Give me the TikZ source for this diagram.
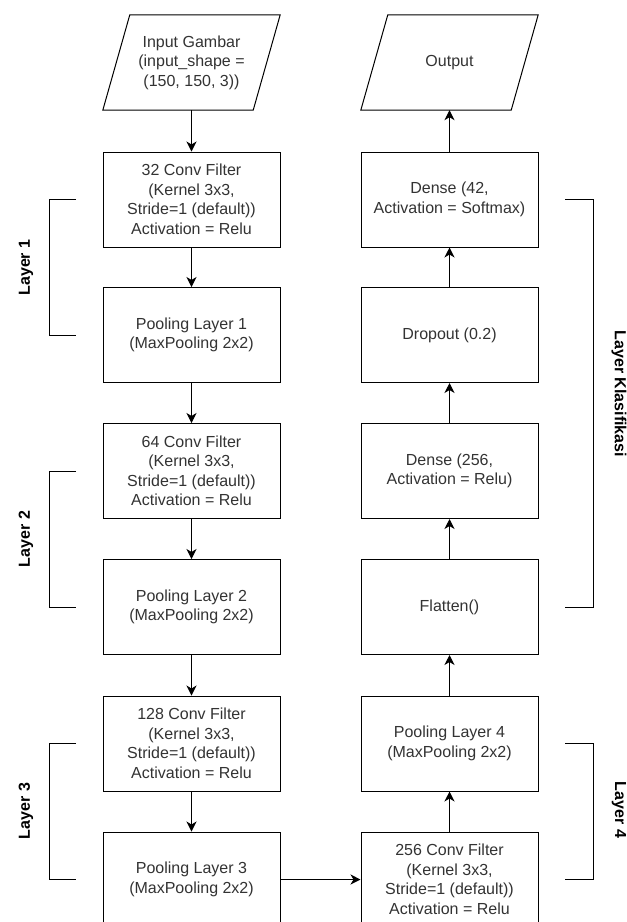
\documentclass[tikz,border=0pt]{standalone}
\usepackage{fontspec}
\setmainfont{Liberation Sans}
\usetikzlibrary{arrows.meta}
\begin{document}
\begin{tikzpicture}[x=1pt,y=-1pt,
  box/.style={draw=black, line width=1pt, minimum width=177pt, minimum height=95pt,
    align=center, text=black!80, font=\fontsize{16}{19.5}\selectfont, inner sep=0pt},
  para/.style={minimum width=150pt, minimum height=95pt,
    align=center, text=black!80, font=\fontsize{16}{19.5}\selectfont, inner sep=0pt},
  flow/.style={line width=1pt, -{Stealth[length=10pt,width=10pt,inset=3pt]}},
  brk/.style={line width=1pt},
  lbl/.style={font=\bfseries\fontsize{16}{19.5}\selectfont, text=black, inner sep=0pt}]
\useasboundingbox (0,0) rectangle (627,922);
\fill[white] (0,0) rectangle (627,922);
% left column
\node[para] (in) at (191.5,62.5) {Input Gambar\\(input\_shape =\\(150, 150, 3))};
\draw[line width=1pt] ([xshift=-13.5pt]in.south west) -- ([xshift=13.5pt]in.north west)
  -- ([xshift=13.5pt]in.north east) -- ([xshift=-13.5pt]in.south east) -- cycle;
\node[box] (c1) at (191.5,199.5) {32 Conv Filter\\(Kernel 3x3,\\Stride=1 (default))\\Activation = Relu};
\node[box] (p1) at (191.5,335) {Pooling Layer 1\\(MaxPooling 2x2)};
\node[box] (c2) at (191.5,471) {64 Conv Filter\\(Kernel 3x3,\\Stride=1 (default))\\Activation = Relu};
\node[box] (p2) at (191.5,607) {Pooling Layer 2\\(MaxPooling 2x2)};
\node[box] (c3) at (191.5,743.5) {128 Conv Filter\\(Kernel 3x3,\\Stride=1 (default))\\Activation = Relu};
\node[box] (p3) at (191.5,879.5) {Pooling Layer 3\\(MaxPooling 2x2)};
% right column
\node[para] (out) at (449.5,62.5) {Output};
\draw[line width=1pt] ([xshift=-13.5pt]out.south west) -- ([xshift=13.5pt]out.north west)
  -- ([xshift=13.5pt]out.north east) -- ([xshift=-13.5pt]out.south east) -- cycle;
\node[box] (d42) at (449.5,199.5) {Dense (42,\\Activation = Softmax)};
\node[box] (drop) at (449.5,335) {Dropout (0.2)};
\node[box] (d256) at (449.5,471) {Dense (256,\\Activation = Relu)};
\node[box] (flat) at (449.5,607) {Flatten()};
\node[box] (p4) at (449.5,743.5) {Pooling Layer 4\\(MaxPooling 2x2)};
\node[box] (c4) at (449.5,879.5) {256 Conv Filter\\(Kernel 3x3,\\Stride=1 (default))\\Activation = Relu};
% connectors
\draw[flow] (in.south) -- (c1.north);
\draw[flow] (c1) -- (p1);
\draw[flow] (p1) -- (c2);
\draw[flow] (c2) -- (p2);
\draw[flow] (p2) -- (c3);
\draw[flow] (c3) -- (p3);
\draw[flow] (p3.east) -- (c4.west);
\draw[flow] (c4) -- (p4);
\draw[flow] (p4) -- (flat);
\draw[flow] (flat) -- (d256);
\draw[flow] (d256) -- (drop);
\draw[flow] (drop) -- (d42);
\draw[flow] (d42.north) -- (out.south);
% brackets
\coordinate (a1) at (76,199.5); \coordinate (a2) at (76,335);
\draw[brk] (a1) -- ++(-27,0) |- (a2);
\coordinate (b1) at (76,471); \coordinate (b2) at (76,607);
\draw[brk] (b1) -- ++(-27,0) |- (b2);
\coordinate (e1) at (76,743.5); \coordinate (e2) at (76,879.5);
\draw[brk] (e1) -- ++(-27,0) |- (e2);
\coordinate (k1) at (565,199.5); \coordinate (k2) at (565,607);
\draw[brk] (k1) -- ++(28,0) |- (k2);
\coordinate (f1) at (565,743.5); \coordinate (f2) at (565,879.5);
\draw[brk] (f1) -- ++(28,0) |- (f2);
% labels
\node[lbl, rotate=90] (L1) at (26,267.5) {Layer 1};
\node[lbl, rotate=90] (L2) at (26,539) {Layer 2};
\node[lbl, rotate=90] (L3) at (26,811) {Layer 3};
\node[lbl, rotate=-90] (LK) at (619,394) {Layer Klasifikasi};
\node[lbl, rotate=-90] (L4) at (619,810) {Layer 4};
\end{tikzpicture}
\end{document}
